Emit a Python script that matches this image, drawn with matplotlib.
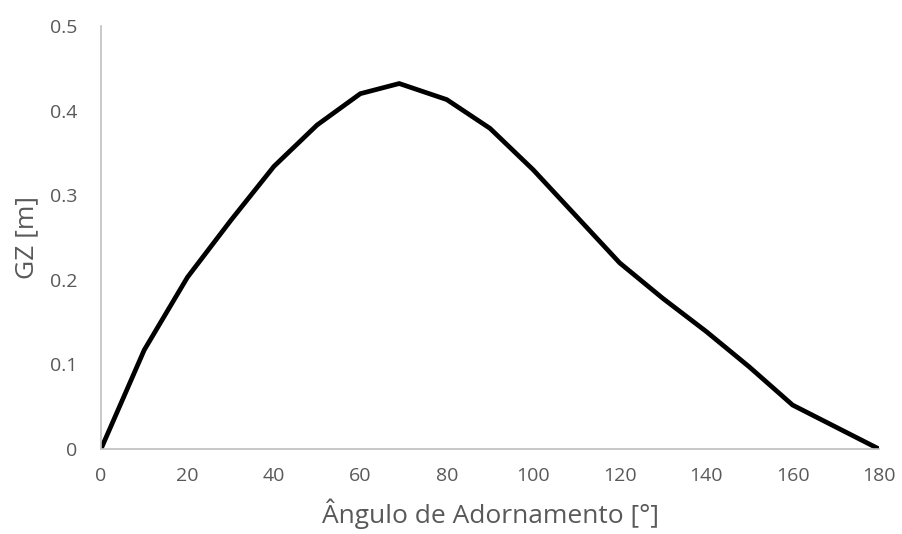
import numpy as np
import matplotlib
matplotlib.use("Agg")
import matplotlib.pyplot as plt

# righting arm curve (GZ) vs heel angle
angle = [0, 10, 20, 30, 40, 50, 60, 69, 80, 90, 100, 110, 120, 130, 140, 150, 160, 180]
gz = [0, 0.117, 0.203, 0.270, 0.334, 0.383, 0.420, 0.432, 0.413, 0.379, 0.330, 0.275, 0.220, 0.178, 0.139, 0.097, 0.052, 0]

plt.rcParams['font.family'] = ['Open Sans', 'DejaVu Sans']
grey = '#595959'

fig = plt.figure(figsize=(9.02, 5.34), dpi=100)
ax = fig.add_axes([101/902, 1-449/534, (879-101)/902, (449-26)/534])
ax.plot(angle, gz, color='black', lw=3.4, solid_joinstyle='miter')

ax.set_xlim(0, 180)
ax.set_ylim(0, 0.5)
ax.set_xticks(np.arange(0, 181, 20))
ax.set_yticks([0, 0.1, 0.2, 0.3, 0.4, 0.5])
ax.set_yticklabels(['0', '0.1', '0.2', '0.3', '0.4', '0.5'])
ax.tick_params(length=0, labelsize=14, colors=grey)
ax.tick_params(axis='x', pad=13)
ax.tick_params(axis='y', pad=17)

for s in ['top', 'right']:
    ax.spines[s].set_visible(False)
for s in ['left', 'bottom']:
    ax.spines[s].set_color('#BFBFBF')
    ax.spines[s].set_linewidth(1.2)

ax.set_xlabel('Ângulo de Adornamento [°]', fontsize=19, color=grey, labelpad=10)
ax.set_ylabel('GZ [m]', fontsize=19, color=grey, labelpad=8)

fig.savefig('out.png', dpi=100)
